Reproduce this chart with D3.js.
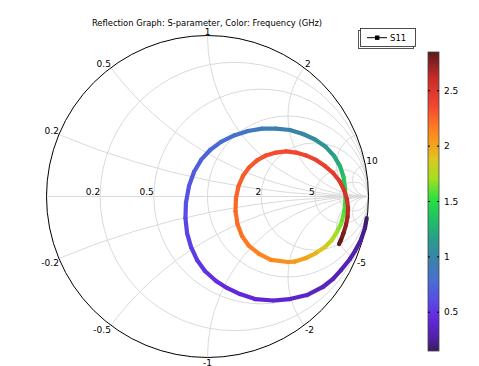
<!DOCTYPE html>
<html><head><meta charset="utf-8">
<script src="https://cdn.jsdelivr.net/npm/d3@7"></script>
<style>
html,body{margin:0;padding:0;background:#fff;}
text{font-family:"DejaVu Sans",sans-serif;fill:#000;}
</style></head>
<body><svg id="c" width="479" height="366"></svg>
<script>
// ---- data ----
const freq = [0.15,0.20,0.24,0.27,0.30,0.32,0.335,0.35,0.365,0.38,0.40,0.42,0.44,0.45,0.47,0.49,0.52,0.54,0.57,0.595,0.625,0.65,0.68,0.71,0.74,0.77,0.81,0.85,0.89,0.93,0.965,1.00,1.05,1.10,1.17,1.25,1.34,1.43,1.50,1.54,1.58,1.63,1.69,1.76,1.85,1.92,1.99,2.04,2.07,2.11,2.14,2.165,2.19,2.215,2.235,2.25,2.265,2.28,2.295,2.31,2.325,2.34,2.355,2.37,2.385,2.40,2.425,2.45,2.48,2.51,2.55,2.60,2.66,2.71,2.76,2.81,2.85];
const gammaRe = [0.989,0.978,0.953,0.916,0.885,0.829,0.780,0.717,0.618,0.512,0.407,0.295,0.202,0.121,0.053,-0.016,-0.065,-0.102,-0.127,-0.137,-0.134,-0.115,-0.084,-0.040,0.016,0.084,0.165,0.252,0.339,0.425,0.512,0.593,0.668,0.736,0.786,0.823,0.845,0.854,0.857,0.854,0.845,0.829,0.804,0.773,0.730,0.674,0.612,0.543,0.500,0.394,0.320,0.258,0.214,0.186,0.174,0.177,0.193,0.220,0.258,0.307,0.363,0.425,0.488,0.550,0.612,0.674,0.730,0.780,0.820,0.848,0.866,0.873,0.870,0.860,0.845,0.829,0.817];
const gammaIm = [-0.134,-0.196,-0.270,-0.339,-0.388,-0.457,-0.512,-0.562,-0.612,-0.637,-0.646,-0.637,-0.606,-0.568,-0.525,-0.463,-0.394,-0.314,-0.227,-0.134,-0.040,0.065,0.152,0.227,0.289,0.339,0.379,0.407,0.422,0.422,0.413,0.388,0.354,0.307,0.252,0.189,0.121,0.053,-0.003,-0.059,-0.115,-0.171,-0.220,-0.270,-0.314,-0.351,-0.382,-0.404,-0.407,-0.394,-0.357,-0.307,-0.245,-0.171,-0.090,-0.009,0.065,0.127,0.180,0.224,0.255,0.273,0.280,0.273,0.255,0.227,0.189,0.146,0.096,0.040,-0.016,-0.071,-0.127,-0.177,-0.227,-0.270,-0.295];

const resistanceCircles = [0.2,0.5,1,2,5,10];
const reactanceArcs = [0.2,0.5,1,2,5,10];
const resistanceLabels = [0.2,0.5,2,5];
const reactanceLabelsTop = [0.2,0.5,1,2,10];
const reactanceLabelsBottom = [-0.2,-0.5,-1,-2,-5];
const colorbarTicks = [0.5,1,1.5,2,2.5];
const colorDomain = [0.15,2.85];
const cmapValues = [0.15,0.27,0.45,0.63,0.80,0.98,1.16,1.34,1.52,1.70,1.88,2.00,2.16,2.37,2.62,2.85];
const cmapColors = ["#3b1c5e","#5020a8","#6428e0","#5650e6","#4870d0","#3884a8","#2a9c8c","#20c064","#28e040","#a0e020","#dcc820","#f4a41c","#ff7e20","#f24530","#c82a2a","#5a1a1a"];
const title = "Reflection Graph: S-parameter, Color: Frequency (GHz)";
const seriesName = "S11";

// ---- drawing ----
const svg = d3.select("#c");
const cx = 207.5, cy = 196.5, R = 161;
const xs = d3.scaleLinear().domain([-1,1]).range([cx-R,cx+R]);
const ys = d3.scaleLinear().domain([-1,1]).range([cy+R,cy-R]);
const rs = d3.scaleLinear().domain([0,1]).range([0,R]);
const color = d3.scaleLinear().domain(cmapValues).range(cmapColors).interpolate(d3.interpolateRgb);

svg.append("text").attr("x",207).attr("y",26).attr("text-anchor","middle")
  .attr("font-size",8.4).text(title);

const defs = svg.append("defs");
defs.append("clipPath").attr("id","uc").append("circle")
  .attr("cx",xs(0)).attr("cy",ys(0)).attr("r",rs(1));

const grid = svg.append("g").attr("clip-path","url(#uc)")
  .attr("fill","none").attr("stroke","#dadada").attr("stroke-width",1);
resistanceCircles.forEach(r=>{
  grid.append("circle").attr("cx",xs(r/(1+r))).attr("cy",ys(0)).attr("r",rs(1/(1+r)));
});
reactanceArcs.forEach(x=>{
  [x,-x].forEach(v=>{
    grid.append("circle").attr("cx",xs(1)).attr("cy",ys(1/v)).attr("r",rs(1/Math.abs(v)));
  });
});
grid.append("line").attr("x1",xs(-1)).attr("x2",xs(1)).attr("y1",ys(0)).attr("y2",ys(0));

svg.append("circle").attr("cx",xs(0)).attr("cy",ys(0)).attr("r",rs(1))
  .attr("fill","none").attr("stroke","#000").attr("stroke-width",1);

// labels
const fmt = v => String(v);
resistanceLabels.forEach(r=>{
  svg.append("text").attr("x",xs((r-1)/(r+1))).attr("y",ys(0)-1.5)
    .attr("text-anchor","end").attr("font-size",9).text(fmt(r));
});
function xPoint(x){ const d=x*x+1; return [(x*x-1)/d, 2*x/d]; }
reactanceLabelsTop.forEach(x=>{
  const [gr,gi]=xPoint(x);
  const anchor = Math.abs(gr)<0.05 ? "middle" : (gr<0 ? "end" : "start");
  svg.append("text").attr("x",xs(gr)+(anchor==="start"?1:0)).attr("y",ys(gi)-1)
    .attr("text-anchor",anchor).attr("font-size",9).text(fmt(x));
});
reactanceLabelsBottom.forEach(x=>{
  const [gr,gi]=xPoint(x);
  const anchor = Math.abs(gr)<0.05 ? "middle" : (gr<0 ? "end" : "start");
  svg.append("text").attr("x",xs(gr)+(anchor==="start"?1:0)).attr("y",ys(gi)+8)
    .attr("text-anchor",anchor).attr("font-size",9).text(fmt(x));
});

// curve
const curve = svg.append("g").attr("stroke-width",4.2).attr("stroke-linecap","round");
for(let i=0;i<freq.length-1;i++){
  curve.append("line")
    .attr("x1",xs(gammaRe[i])).attr("y1",ys(gammaIm[i]))
    .attr("x2",xs(gammaRe[i+1])).attr("y2",ys(gammaIm[i+1]))
    .attr("stroke",color((freq[i]+freq[i+1])/2));
}

// legend
const lg = svg.append("g");
lg.append("rect").attr("x",358.5).attr("y",30.5).attr("width",55).attr("height",18)
  .attr("fill","#fff").attr("stroke","#555").attr("stroke-width",1);
lg.append("rect").attr("x",360.5).attr("y",28.5).attr("width",55).attr("height",18)
  .attr("fill","#fff").attr("stroke","#222").attr("stroke-width",0.8);
lg.append("line").attr("x1",367).attr("x2",387).attr("y1",37.7).attr("y2",37.7)
  .attr("stroke","#000").attr("stroke-width",1);
lg.append("rect").attr("x",375).attr("y",35.5).attr("width",4.4).attr("height",4.4).attr("fill","#000");
lg.append("text").attr("x",390).attr("y",41).attr("font-size",8.5).text(seriesName);

// colorbar
const cbX = 428, cbW = 11;
const cs = d3.scaleLinear().domain(colorDomain).range([351,52]);
const grad = defs.append("linearGradient").attr("id","cbg")
  .attr("x1",0).attr("y1",1).attr("x2",0).attr("y2",0);
cmapValues.forEach((v,i)=>{
  grad.append("stop").attr("offset",(v-colorDomain[0])/(colorDomain[1]-colorDomain[0]))
    .attr("stop-color",cmapColors[i]);
});
svg.append("rect").attr("x",cbX).attr("y",cs(colorDomain[1])).attr("width",cbW)
  .attr("height",cs(colorDomain[0])-cs(colorDomain[1])).attr("fill","url(#cbg)")
  .attr("stroke","#444").attr("stroke-width",0.8);
colorbarTicks.forEach(t=>{
  const y = cs(t);
  svg.append("line").attr("x1",cbX).attr("x2",cbX+2).attr("y1",y).attr("y2",y).attr("stroke","#000");
  svg.append("line").attr("x1",cbX+cbW-2).attr("x2",cbX+cbW).attr("y1",y).attr("y2",y).attr("stroke","#000");
  svg.append("text").attr("x",cbX+cbW+5).attr("y",y+3).attr("font-size",9).text(fmt(t));
});
</script></body></html>
